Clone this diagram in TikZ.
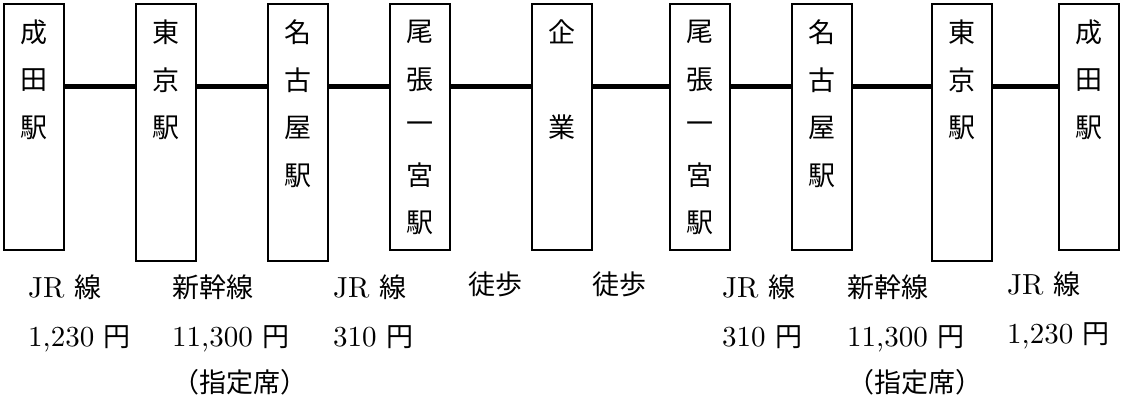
\documentclass[tikz,border=0pt]{standalone}
\usepackage{fontspec}
\setmainfont{lmroman10-regular.otf}
\newfontfamily\jp{Noto Sans CJK JP}
\usepackage{tikz}
\tikzstyle{station}=[draw=black,line width=2pt,minimum width=60pt,inner sep=0pt,anchor=north]
\tikzstyle{kanji}=[font=\jp\fontsize{27}{32}\selectfont,inner sep=0pt]
\tikzstyle{fare}=[font=\fontsize{29}{32}\selectfont,inner sep=0pt,anchor=base west]
\tikzstyle{rail}=[line width=4.5pt]
\newcommand{\jtext}[1]{{\jp\fontsize{27}{32}\selectfont #1}}
% station name written top to bottom inside box #1
\newcommand{\tate}[2]{%
  \foreach \c [count=\k] in {#2}
    \path (#1.north) ++(0,{29+47.8*(\k-1)}) node[kanji] (#1c\k) {\c};}

\begin{document}
\begin{tikzpicture}[x=1pt,y=-1pt]
  \useasboundingbox (0,0) rectangle (1121,405);

  \foreach \i/\x/\h in {1/34/246,2/166/257,3/298/257,4/420/246,5/562/246,
                        6/700/246,7/822/246,8/962/257,9/1089/246}{
    \node[station,minimum height=\h pt] (s\i) at (\x,3) {};
  }

  \tate{s1}{成,田,駅}
  \tate{s2}{東,京,駅}
  \tate{s3}{名,古,屋,駅}
  \tate{s4}{尾,張,一,宮,駅}
  \tate{s5}{企,{},業}
  \tate{s6}{尾,張,一,宮,駅}
  \tate{s7}{名,古,屋,駅}
  \tate{s8}{東,京,駅}
  \tate{s9}{成,田,駅}

  \coordinate (track) at (0,86.5);
  \foreach \a/\b in {1/2,2/3,3/4,4/5,5/6,6/7,7/8,8/9}{
    \draw[rail] (s\a.east |- track) -- (s\b.west |- track);
  }

  \node[fare] (line1) at (28,297) {JR \jtext{線}};
  \node[fare] (cost1) at (28,346) {1,230 \jtext{円}};
  \node[fare] (line2) at (172,297) {\jtext{新幹線}};
  \node[fare] (cost2) at (172,346) {11,300 \jtext{円}};
  \node[fare] (seat2) at (172,392) {\jtext{（指定席）}};
  \node[fare] (line3) at (333,297) {JR \jtext{線}};
  \node[fare] (cost3) at (333,346) {310 \jtext{円}};
  \node[fare] (walk4) at (468,294) {\jtext{徒歩}};
  \node[fare] (walk5) at (592,294) {\jtext{徒歩}};
  \node[fare] (line6) at (722,297) {JR \jtext{線}};
  \node[fare] (cost6) at (722,346) {310 \jtext{円}};
  \node[fare] (line7) at (847,297) {\jtext{新幹線}};
  \node[fare] (cost7) at (847,346) {11,300 \jtext{円}};
  \node[fare] (seat7) at (847,392) {\jtext{（指定席）}};
  \node[fare] (line8) at (1007,294) {JR \jtext{線}};
  \node[fare] (cost8) at (1007,343) {1,230 \jtext{円}};

\end{tikzpicture}
\end{document}
